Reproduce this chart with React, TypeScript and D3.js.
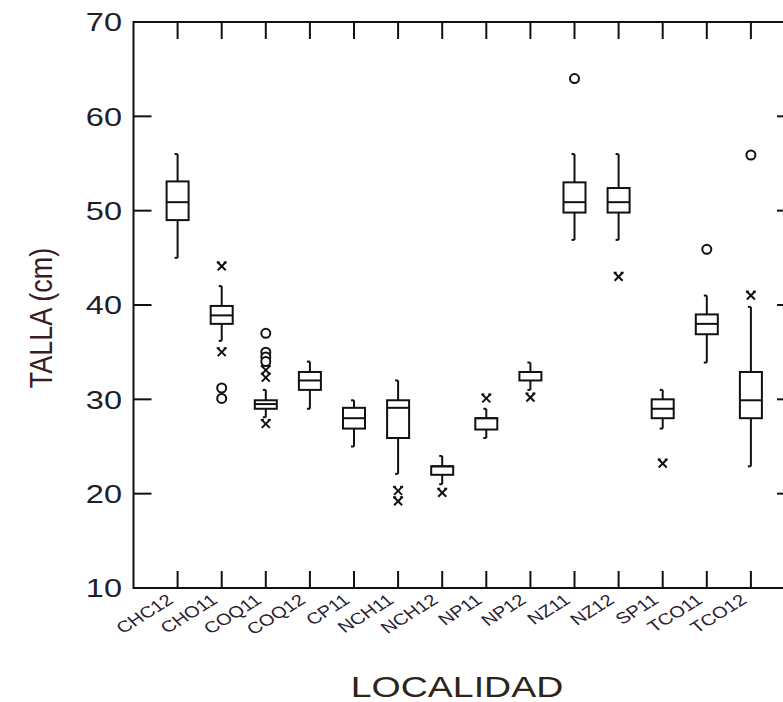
import React from "react";
import * as d3 from "d3";

const categories = ["CHC12","CHO11","COQ11","COQ12","CP11","NCH11","NCH12","NP11","NP12","NZ11","NZ12","SP11","TCO11","TCO12"];
const whiskerLow = [45, 36.2, 28.1, 29, 25, 22.1, 21, 25.9, 31, 46.9, 46.9, 26.9, 33.9, 22.9];
const q1 = [49, 38, 29, 31, 26.9, 25.9, 22, 26.8, 32, 49.8, 49.8, 28, 36.9, 28];
const median = [50.9, 38.9, 29.5, 32, 28, 29.1, 22.9, 28, 32.9, 50.9, 50.9, 29, 38, 29.9];
const q3 = [53.1, 39.9, 29.9, 32.9, 29.1, 29.9, 22.9, 28, 32.9, 53, 52.4, 30, 39, 32.9];
const whiskerHigh = [56, 42, 31, 34, 29.9, 32, 24, 29, 33.9, 56, 56, 31, 41, 39.8];

const asteriskCats = ["CHO11","CHO11","COQ11","COQ11","COQ11","NCH11","NCH11","NCH12","NP11","NP12","NZ12","SP11","TCO12"];
const asteriskVals = [44.1, 35.0, 33.1, 32.3, 27.4, 20.3, 19.2, 20.1, 30.1, 30.2, 43.0, 23.2, 41.0];
const circleCats = ["CHO11","CHO11","COQ11","COQ11","COQ11","COQ11","NZ11","TCO11","TCO12"];
const circleVals = [31.2, 30.1, 37.0, 35.0, 34.5, 34.0, 64.0, 45.9, 55.9];

const yTicks = [10, 20, 30, 40, 50, 60, 70];

export default function App() {
  const W = 783, H = 702;
  const left = 133.5, right = 795, top = 22, bottom = 588;
  const x = d3.scaleLinear().domain([0, categories.length + 1]).range([left, right]);
  const y = d3.scaleLinear().domain([10, 70]).range([bottom, top]);
  const cx = (c: string) => x(categories.indexOf(c) + 1);
  const bw = 22;
  const tickLen = 18;
  const sx = 1.25;

  return (
    <svg width={W} height={H} style={{ position: "absolute", left: 0, top: 0, background: "#fff" }}
      fontFamily="'Liberation Sans', Arial, sans-serif">
      <rect x={left} y={top} width={right - left} height={bottom - top} fill="none" stroke="#111" strokeWidth={2} />
      {yTicks.map((t) => (
        <g key={"yt" + t}>
          <line x1={left} x2={left + tickLen} y1={y(t)} y2={y(t)} stroke="#111" strokeWidth={2} />
          <line x1={right - tickLen} x2={right} y1={y(t)} y2={y(t)} stroke="#111" strokeWidth={2} />
          <g transform={`translate(122,${y(t)}) scale(${sx},1)`}>
            <text textAnchor="end" dy="0.36em" fontSize={26} fill="#1e1e2a">{t}</text>
          </g>
        </g>
      ))}
      {categories.map((c, i) => (
        <g key={"xt" + c}>
          <line x1={x(i + 1)} x2={x(i + 1)} y1={bottom} y2={bottom - 17} stroke="#111" strokeWidth={2} />
          <line x1={x(i + 1)} x2={x(i + 1)} y1={top} y2={top + 17} stroke="#111" strokeWidth={2} />
          <g transform={`translate(${x(i + 1) - 3},${602}) scale(${sx},1) rotate(-38)`}>
            <text textAnchor="end" fontSize={16} fill="#2a2030">{c}</text>
          </g>
        </g>
      ))}
      {categories.map((c, i) => {
        const X = x(i + 1);
        return (
          <g key={"b" + c} stroke="#111" strokeWidth={2} fill="none">
            <line x1={X} x2={X} y1={y(whiskerHigh[i])} y2={y(q3[i])} />
            <line x1={X} x2={X} y1={y(q1[i])} y2={y(whiskerLow[i])} />
            <line x1={X - 3} x2={X} y1={y(whiskerHigh[i])} y2={y(whiskerHigh[i])} />
            <line x1={X - 3} x2={X} y1={y(whiskerLow[i])} y2={y(whiskerLow[i])} />
            <rect x={X - bw / 2} y={y(q3[i])} width={bw} height={Math.max(0, y(q1[i]) - y(q3[i]))} fill="#fff" />
            <line x1={X - bw / 2} x2={X + bw / 2} y1={y(median[i])} y2={y(median[i])} />
          </g>
        );
      })}
      {asteriskCats.map((c, i) => {
        const X = cx(c), Y = y(asteriskVals[i]);
        const s = 4;
        return (
          <g key={"a" + i} stroke="#111" strokeWidth={2}>
            <line x1={X - s} x2={X + s} y1={Y - s} y2={Y + s} />
            <line x1={X - s} x2={X + s} y1={Y + s} y2={Y - s} />
            <line x1={X - s - 1} x2={X - s + 2} y1={Y - s} y2={Y - s} />
            <line x1={X + s - 2} x2={X + s + 1} y1={Y - s} y2={Y - s} />
          </g>
        );
      })}
      {circleCats.map((c, i) => (
        <circle key={"c" + i} cx={cx(c)} cy={y(circleVals[i])} r={4.5} fill="#fff" stroke="#111" strokeWidth={2} />
      ))}
      <g transform={`translate(457,697) scale(${sx},1)`}>
        <text textAnchor="middle" fontSize={30} fill="#2e2418">LOCALIDAD</text>
      </g>
      <g transform={`translate(52,318) scale(${sx * 0.95},1) rotate(-90)`}>
        <text textAnchor="middle" fontSize={27} fill="#3a1c22">TALLA (cm)</text>
      </g>
    </svg>
  );
}
